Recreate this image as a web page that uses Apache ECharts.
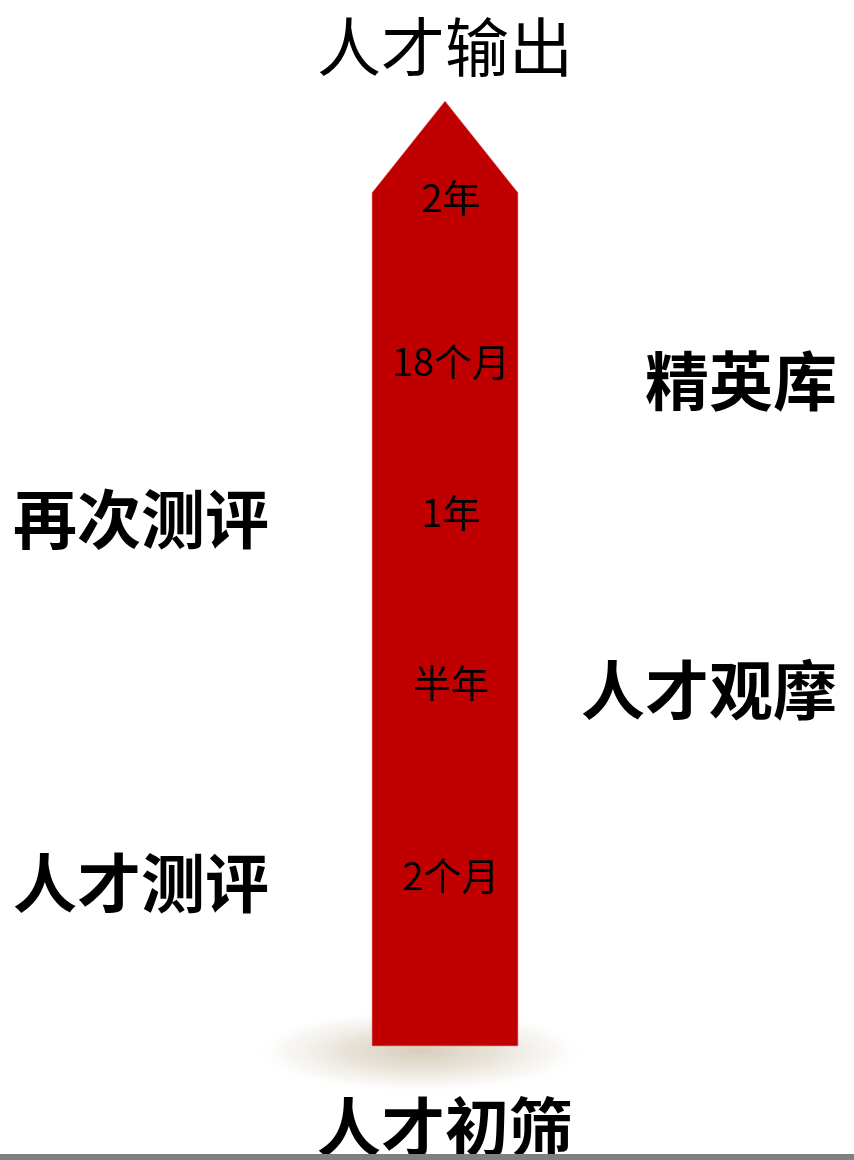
<!DOCTYPE html>
<html>
<head>
<meta charset="utf-8">
<script src="https://cdn.jsdelivr.net/npm/echarts@6/dist/echarts.min.js"></script>
<style>
html,body{margin:0;padding:0;background:#ffffff;}
#chart{width:854px;height:1160px;}
</style>
</head>
<body>
<div id="chart"></div>
<script>
// ---- data (progress along the arrow, 0 = base, 100 = tip) ----
const arrowStart = 0;
const arrowHeadStart = 90.3;
const arrowEnd = 100;

const timeLabels = ['2个月', '半年', '1年', '18个月', '2年'];
const timeLevels = [18.0, 38.5, 56.4, 72.4, 89.8];

const stageNames  = ['人才初筛', '人才测评', '人才观摩', '再次测评', '精英库', '人才输出'];
const stageLevels = [-8.5, 17.3, 37.7, 55.8, 70.4, 105.8];
const stageSides  = ['center', 'left', 'right', 'left', 'right', 'center'];
const stageBold   = [true, true, true, true, true, false];

// ---- layout (not data) ----
const W = 854;
const ARROW_X = 445;
const ARROW_HALF = 73;
const TIME_X = 451;
const SIDE_X = { left: 141, center: 445, right: 837 };
const SIDE_ALIGN = { left: 'center', center: 'center', right: 'right' };
const FONT = '"Noto Sans CJK SC", "Microsoft YaHei", sans-serif';

const chart = echarts.init(document.getElementById('chart'), null, { renderer: 'canvas' });

const stageData = stageNames.map((n, i) => [SIDE_X[stageSides[i]], stageLevels[i], i]);
const timeData = timeLabels.map((t, i) => [TIME_X, timeLevels[i], i]);

function textItem(text, pt, align, size, weight) {
  return {
    type: 'text',
    x: pt[0],
    y: pt[1],
    style: {
      text: text,
      fill: '#000000',
      align: align,
      verticalAlign: 'middle',
      font: weight + ' ' + size + 'px ' + FONT
    }
  };
}

const option = {
  backgroundColor: '#ffffff',
  animation: false,
  grid: { left: 0, right: 0, top: 101, bottom: 114 },
  xAxis: { type: 'value', min: 0, max: W, show: false },
  yAxis: { type: 'value', min: arrowStart, max: arrowEnd, show: false },
  graphic: [
    {
      type: 'circle',
      z: -10,
      x: 420,
      y: 1051,
      scaleX: 4.0,
      shape: { cx: 0, cy: 0, r: 42 },
      style: {
        fill: {
          type: 'radial', x: 0.5, y: 0.5, r: 0.5,
          colorStops: [
            { offset: 0, color: 'rgba(214,206,188,1)' },
            { offset: 0.45, color: 'rgba(228,222,210,0.85)' },
            { offset: 0.8, color: 'rgba(242,239,233,0.5)' },
            { offset: 1, color: 'rgba(255,255,255,0)' }
          ]
        }
      }
    },
    {
      type: 'rect',
      z: 100,
      shape: { x: 0, y: 1154, width: W, height: 6 },
      style: { fill: '#808080' }
    }
  ],
  series: [
    {
      type: 'custom',
      name: 'arrow',
      z: 2,
      clip: false,
      data: [[arrowStart, arrowHeadStart, arrowEnd]],
      renderItem: function (params, api) {
        const base = api.coord([ARROW_X, api.value(0)]);
        const sh = api.coord([ARROW_X, api.value(1)]);
        const tip = api.coord([ARROW_X, api.value(2)]);
        return {
          type: 'polygon',
          shape: {
            points: [
              [base[0] - ARROW_HALF, base[1]],
              [base[0] - ARROW_HALF, sh[1]],
              [tip[0], tip[1]],
              [base[0] + ARROW_HALF, sh[1]],
              [base[0] + ARROW_HALF, base[1]]
            ]
          },
          style: { fill: '#C00000', stroke: 'rgba(230,150,150,0.6)', lineWidth: 1 }
        };
      }
    },
    {
      type: 'custom',
      name: 'time',
      z: 5,
      clip: false,
      data: timeData,
      renderItem: function (params, api) {
        const pt = api.coord([api.value(0), api.value(1)]);
        return textItem(timeLabels[api.value(2)], pt, 'center', 38, 'normal');
      }
    },
    {
      type: 'custom',
      name: 'stage',
      z: 5,
      clip: false,
      data: stageData,
      renderItem: function (params, api) {
        const i = api.value(2);
        const pt = api.coord([api.value(0), api.value(1)]);
        return textItem(stageNames[i], pt, SIDE_ALIGN[stageSides[i]], 64, stageBold[i] ? 'bold' : 'normal');
      }
    }
  ]
};

chart.setOption(option);
</script>
</body>
</html>
